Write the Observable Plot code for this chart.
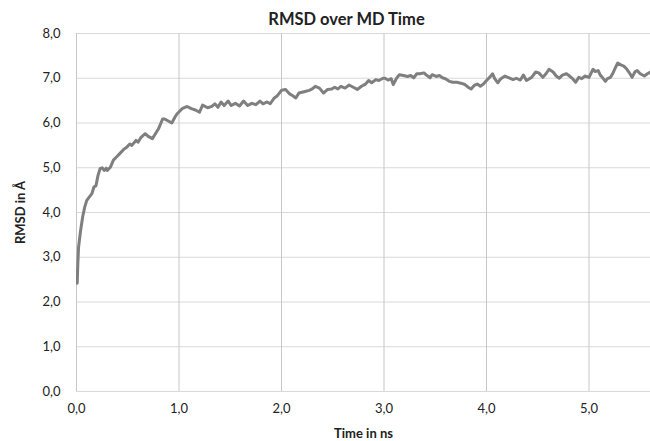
<!DOCTYPE html>
<html>
<head>
<meta charset="utf-8">
<script src="https://cdn.jsdelivr.net/npm/d3@7"></script>
<script src="https://cdn.jsdelivr.net/npm/@observablehq/plot@0.6"></script>
<style>
  html, body { margin: 0; padding: 0; background: #fff; }
  #chart svg { display: block; }
</style>
</head>
<body>
<div id="chart"></div>
<script>
const title = "RMSD over MD Time";
const xTitle = "Time in ns";
const yTitle = "RMSD in Å";
const xTicks = [0, 1, 2, 3, 4, 5];
const yTicks = [0, 1, 2, 3, 4, 5, 6, 7, 8];

const time = [0.007,0.013,0.02,0.04,0.06,0.08,0.10,0.13,0.15,0.17,0.19,0.21,0.23,0.25,0.27,0.29,0.30,0.33,0.36,0.39,0.42,0.46,0.49,0.52,0.54,0.58,0.60,0.63,0.67,0.70,0.74,0.77,0.80,0.84,0.86,0.90,0.93,0.96,0.98,1.03,1.08,1.12,1.16,1.20,1.23,1.28,1.32,1.35,1.38,1.41,1.44,1.48,1.51,1.55,1.59,1.63,1.67,1.71,1.75,1.79,1.82,1.86,1.89,1.93,1.96,2.00,2.04,2.08,2.11,2.14,2.17,2.22,2.27,2.30,2.33,2.37,2.41,2.45,2.49,2.52,2.55,2.58,2.62,2.66,2.70,2.74,2.78,2.82,2.85,2.88,2.92,2.95,2.99,3.01,3.04,3.07,3.09,3.12,3.15,3.19,3.23,3.26,3.29,3.32,3.35,3.39,3.42,3.45,3.47,3.51,3.54,3.57,3.60,3.64,3.67,3.71,3.75,3.79,3.82,3.85,3.88,3.91,3.94,3.97,4.00,4.03,4.06,4.08,4.11,4.14,4.18,4.22,4.26,4.29,4.33,4.36,4.39,4.44,4.48,4.51,4.55,4.58,4.61,4.65,4.68,4.71,4.74,4.78,4.81,4.84,4.87,4.90,4.93,4.96,5.00,5.04,5.06,5.09,5.11,5.13,5.16,5.18,5.21,5.23,5.26,5.28,5.31,5.34,5.37,5.40,5.42,5.45,5.47,5.50,5.54,5.57,5.60];
const rmsd = [2.42,2.85,3.22,3.60,3.90,4.12,4.27,4.36,4.42,4.57,4.60,4.83,4.98,5.00,4.94,4.99,4.94,5.01,5.17,5.24,5.31,5.41,5.46,5.53,5.50,5.61,5.57,5.68,5.76,5.70,5.65,5.76,5.87,6.09,6.09,6.04,6.00,6.13,6.20,6.32,6.37,6.32,6.29,6.24,6.40,6.34,6.37,6.43,6.35,6.47,6.39,6.49,6.39,6.44,6.38,6.49,6.39,6.44,6.41,6.49,6.43,6.47,6.43,6.56,6.61,6.73,6.75,6.65,6.61,6.56,6.67,6.70,6.73,6.76,6.82,6.78,6.67,6.75,6.76,6.80,6.76,6.82,6.78,6.85,6.80,6.75,6.82,6.87,6.95,6.90,6.97,6.95,7.00,7.00,6.96,6.99,6.86,6.99,7.08,7.06,7.04,7.06,7.01,7.10,7.10,7.12,7.06,7.01,7.08,7.04,7.06,7.01,6.99,6.93,6.91,6.91,6.89,6.86,6.80,6.76,6.84,6.87,6.82,6.87,6.95,7.02,7.10,6.99,6.90,6.99,7.05,7.01,6.97,7.00,6.96,7.07,6.95,7.02,7.14,7.12,7.02,7.10,7.20,7.14,7.05,7.00,7.07,7.10,7.05,6.99,6.91,7.02,6.99,7.05,7.02,7.20,7.15,7.17,7.07,7.02,6.93,6.99,7.02,7.10,7.25,7.34,7.30,7.27,7.20,7.10,7.02,7.15,7.17,7.10,7.05,7.10,7.14];

const data = time.map((t, i) => ({t, v: rmsd[i]}));
const fmt = d => d.toFixed(1).replace(".", ",");

const chart = Plot.plot({
  width: 650,
  height: 441,
  marginLeft: 76,
  marginRight: 0,
  marginTop: 33,
  marginBottom: 50,
  style: { fontFamily: "Lato, 'Open Sans', sans-serif", fontSize: "13px", color: "#222", background: "#fff" },
  x: { domain: [0, 5.6], ticks: xTicks, tickFormat: fmt, tickSize: 0, tickPadding: 12, label: null },
  y: { domain: [0, 8], ticks: yTicks, tickFormat: fmt, tickSize: 0, tickPadding: 16, label: null },
  marks: [
    Plot.ruleY(yTicks, { stroke: "#d9d9d9", strokeWidth: 1 }),
    Plot.ruleX(xTicks, { stroke: "#c6c6c6", strokeWidth: 1 }),
    Plot.axisX({ ticks: xTicks, tickFormat: fmt, tickSize: 0, tickPadding: 12, label: null, fontSize: 13 }),
    Plot.axisY({ ticks: yTicks, tickFormat: fmt, tickSize: 0, tickPadding: 16, label: null, fontSize: 13 }),
    Plot.line(data, { x: "t", y: "v", stroke: "#7f7f7f", strokeWidth: 3, clip: true, strokeLinejoin: "round" }),
    Plot.text([title], { frameAnchor: "top", dy: -14, dx: -17, lineAnchor: "middle", fontWeight: "bold", fontSize: 16.5, fill: "#222" }),
    Plot.text([xTitle], { frameAnchor: "bottom", dy: 42, lineAnchor: "middle", fontWeight: "bold", fontSize: 13, fill: "#222" }),
    Plot.text([yTitle], { frameAnchor: "left", dx: -56, rotate: -90, lineAnchor: "middle", textAnchor: "middle", fontWeight: "bold", fontSize: 13, fill: "#222" })
  ]
});
document.getElementById("chart").appendChild(chart);
</script>
</body>
</html>
